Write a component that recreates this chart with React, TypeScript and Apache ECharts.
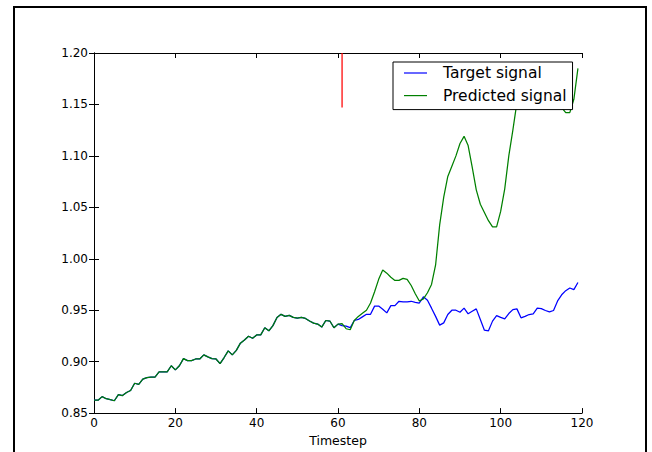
import React, { useEffect, useRef } from "react";
import * as echarts from "echarts";

const timesteps: number[] = Array.from({ length: 120 }, (_, i) => i);

const targetSignal: number[] = [
  0.8625, 0.8625, 0.866, 0.864, 0.863, 0.862, 0.868, 0.867, 0.87, 0.872,
  0.879, 0.878, 0.883, 0.8845, 0.885, 0.885, 0.89, 0.89, 0.89, 0.896,
  0.892, 0.896, 0.903, 0.901, 0.901, 0.9026, 0.9026, 0.9066, 0.9046, 0.903,
  0.9026, 0.898, 0.904, 0.9105, 0.9066, 0.911, 0.918, 0.921, 0.9247, 0.9227,
  0.926, 0.926, 0.933, 0.93, 0.935, 0.943, 0.946, 0.944, 0.945, 0.943,
  0.9424, 0.943, 0.942, 0.9395, 0.9375, 0.9365, 0.9336, 0.94, 0.9395, 0.933,
  0.9365, 0.935, 0.9345, 0.933, 0.94, 0.941, 0.9435, 0.946, 0.946, 0.954,
  0.954, 0.951, 0.9474, 0.9545, 0.9545, 0.9587, 0.958, 0.958, 0.9587, 0.9577,
  0.957, 0.963, 0.9597, 0.952, 0.944, 0.9355, 0.9377, 0.9458, 0.95, 0.95,
  0.948, 0.952, 0.9465, 0.949, 0.9513, 0.941, 0.9306, 0.93, 0.9394, 0.9448,
  0.943, 0.9416, 0.9468, 0.9506, 0.9513, 0.9426, 0.944, 0.9458, 0.9465, 0.952,
  0.9516, 0.9497, 0.9484, 0.9497, 0.959, 0.965, 0.969, 0.9716, 0.97, 0.977,
];

// predicted signal follows the target up to the seed point (t = 60)
const seedLength = 61;
const predictedTail: number[] = [
  0.937, 0.932, 0.931, 0.94, 0.944, 0.947, 0.95, 0.957, 0.968,
  0.98, 0.989, 0.986, 0.982, 0.979, 0.979, 0.981, 0.98, 0.974, 0.966,
  0.959, 0.961, 0.967, 0.975, 0.994, 1.033, 1.06, 1.08, 1.09, 1.1,
  1.112, 1.119, 1.11, 1.089, 1.067, 1.053, 1.045, 1.037, 1.031, 1.031,
  1.046, 1.068, 1.1, 1.125, 1.152, 1.17, 1.18, 1.185, 1.185, 1.18,
  1.175, 1.17, 1.163, 1.157, 1.152, 1.147, 1.142, 1.142, 1.155, 1.185,
];
const predictedSignal: number[] = targetSignal.slice(0, seedLength).concat(predictedTail);

const markerX = 61;
const markerY: number[] = [1.147, 1.2];

const xTicks = { min: 0, max: 120, interval: 20 };
const yTicks = { min: 0.85, max: 1.2, interval: 0.05 };

const FONT = "DejaVu Sans";

export default function App() {
  const ref = useRef<HTMLDivElement>(null);

  useEffect(() => {
    if (!ref.current) return;
    const chart = echarts.init(ref.current, undefined, { renderer: "svg" });

    const axisLineStyle = { color: "#000", width: 1 };
    const tickStyle = { inside: true, length: 5, lineStyle: { color: "#000", width: 1 } };

    chart.setOption({
      animation: false,
      backgroundColor: "#fff",
      grid: { left: 94, top: 53, width: 488, height: 364, containLabel: false },
      legend: {
        data: ["Target signal", "Predicted signal"],
        orient: "vertical",
        left: 393,
        top: 62,
        backgroundColor: "#fff",
        borderColor: "#000",
        borderWidth: 1,
        borderRadius: 0,
        padding: [2, 6, 5, 11],
        itemGap: 4.6,
        itemWidth: 23,
        itemHeight: 1.2,
        icon: "rect",
        textStyle: {
          fontFamily: FONT,
          fontSize: 15.5,
          lineHeight: 18,
          color: "#000",
          padding: [0, 0, 0, 11],
        },
      },
      xAxis: [
        {
          type: "value",
          ...xTicks,
          position: "bottom",
          name: "Timestep",
          nameLocation: "middle",
          nameGap: 14,
          nameTextStyle: { fontFamily: FONT, fontSize: 12.5, color: "#000", verticalAlign: "top" },
          axisLine: { show: true, lineStyle: axisLineStyle },
          axisTick: tickStyle,
          axisLabel: { fontFamily: FONT, fontSize: 12, color: "#000", margin: 4 },
          splitLine: { show: false },
        },
        {
          type: "value",
          ...xTicks,
          position: "top",
          axisLine: { show: true, lineStyle: axisLineStyle },
          axisTick: tickStyle,
          axisLabel: { show: false },
          splitLine: { show: false },
        },
      ],
      yAxis: [
        {
          type: "value",
          ...yTicks,
          position: "left",
          axisLine: { show: true, lineStyle: axisLineStyle },
          axisTick: tickStyle,
          axisLabel: {
            fontFamily: FONT,
            fontSize: 12,
            color: "#000",
            margin: 6,
            formatter: (v: number) => v.toFixed(2),
          },
          splitLine: { show: false },
        },
        {
          type: "value",
          ...yTicks,
          position: "right",
          axisLine: { show: true, lineStyle: axisLineStyle },
          axisTick: tickStyle,
          axisLabel: { show: false },
          splitLine: { show: false },
        },
      ],
      series: [
        {
          name: "Target signal",
          type: "line",
          xAxisIndex: 0,
          yAxisIndex: 0,
          data: timesteps.map((t, i) => [t, targetSignal[i]]),
          showSymbol: false,
          symbol: "none",
          color: "#0000ff",
          lineStyle: { color: "#0000ff", width: 1.25 },
          clip: true,
        },
        {
          name: "Predicted signal",
          type: "line",
          xAxisIndex: 0,
          yAxisIndex: 0,
          data: timesteps.map((t, i) => [t, predictedSignal[i]]),
          showSymbol: false,
          symbol: "none",
          color: "#008000",
          lineStyle: { color: "#008000", width: 1.25 },
          clip: true,
        },
        {
          name: "marker",
          type: "line",
          xAxisIndex: 0,
          yAxisIndex: 0,
          data: markerY.map((y) => [markerX, y]),
          showSymbol: false,
          symbol: "none",
          color: "#ff0000",
          lineStyle: { color: "#ff0000", width: 1.25 },
          clip: true,
        },
      ],
      graphic: [
        {
          type: "rect",
          shape: { x: 14, y: 7, width: 632, height: 470 },
          style: { fill: "none", stroke: "#000", lineWidth: 2 },
          silent: true,
          z: 100,
        },
      ],
    });

    return () => chart.dispose();
  }, []);

  return (
    <div
      ref={ref}
      style={{ position: "fixed", left: 0, top: 0, width: 652, height: 452 }}
    />
  );
}
